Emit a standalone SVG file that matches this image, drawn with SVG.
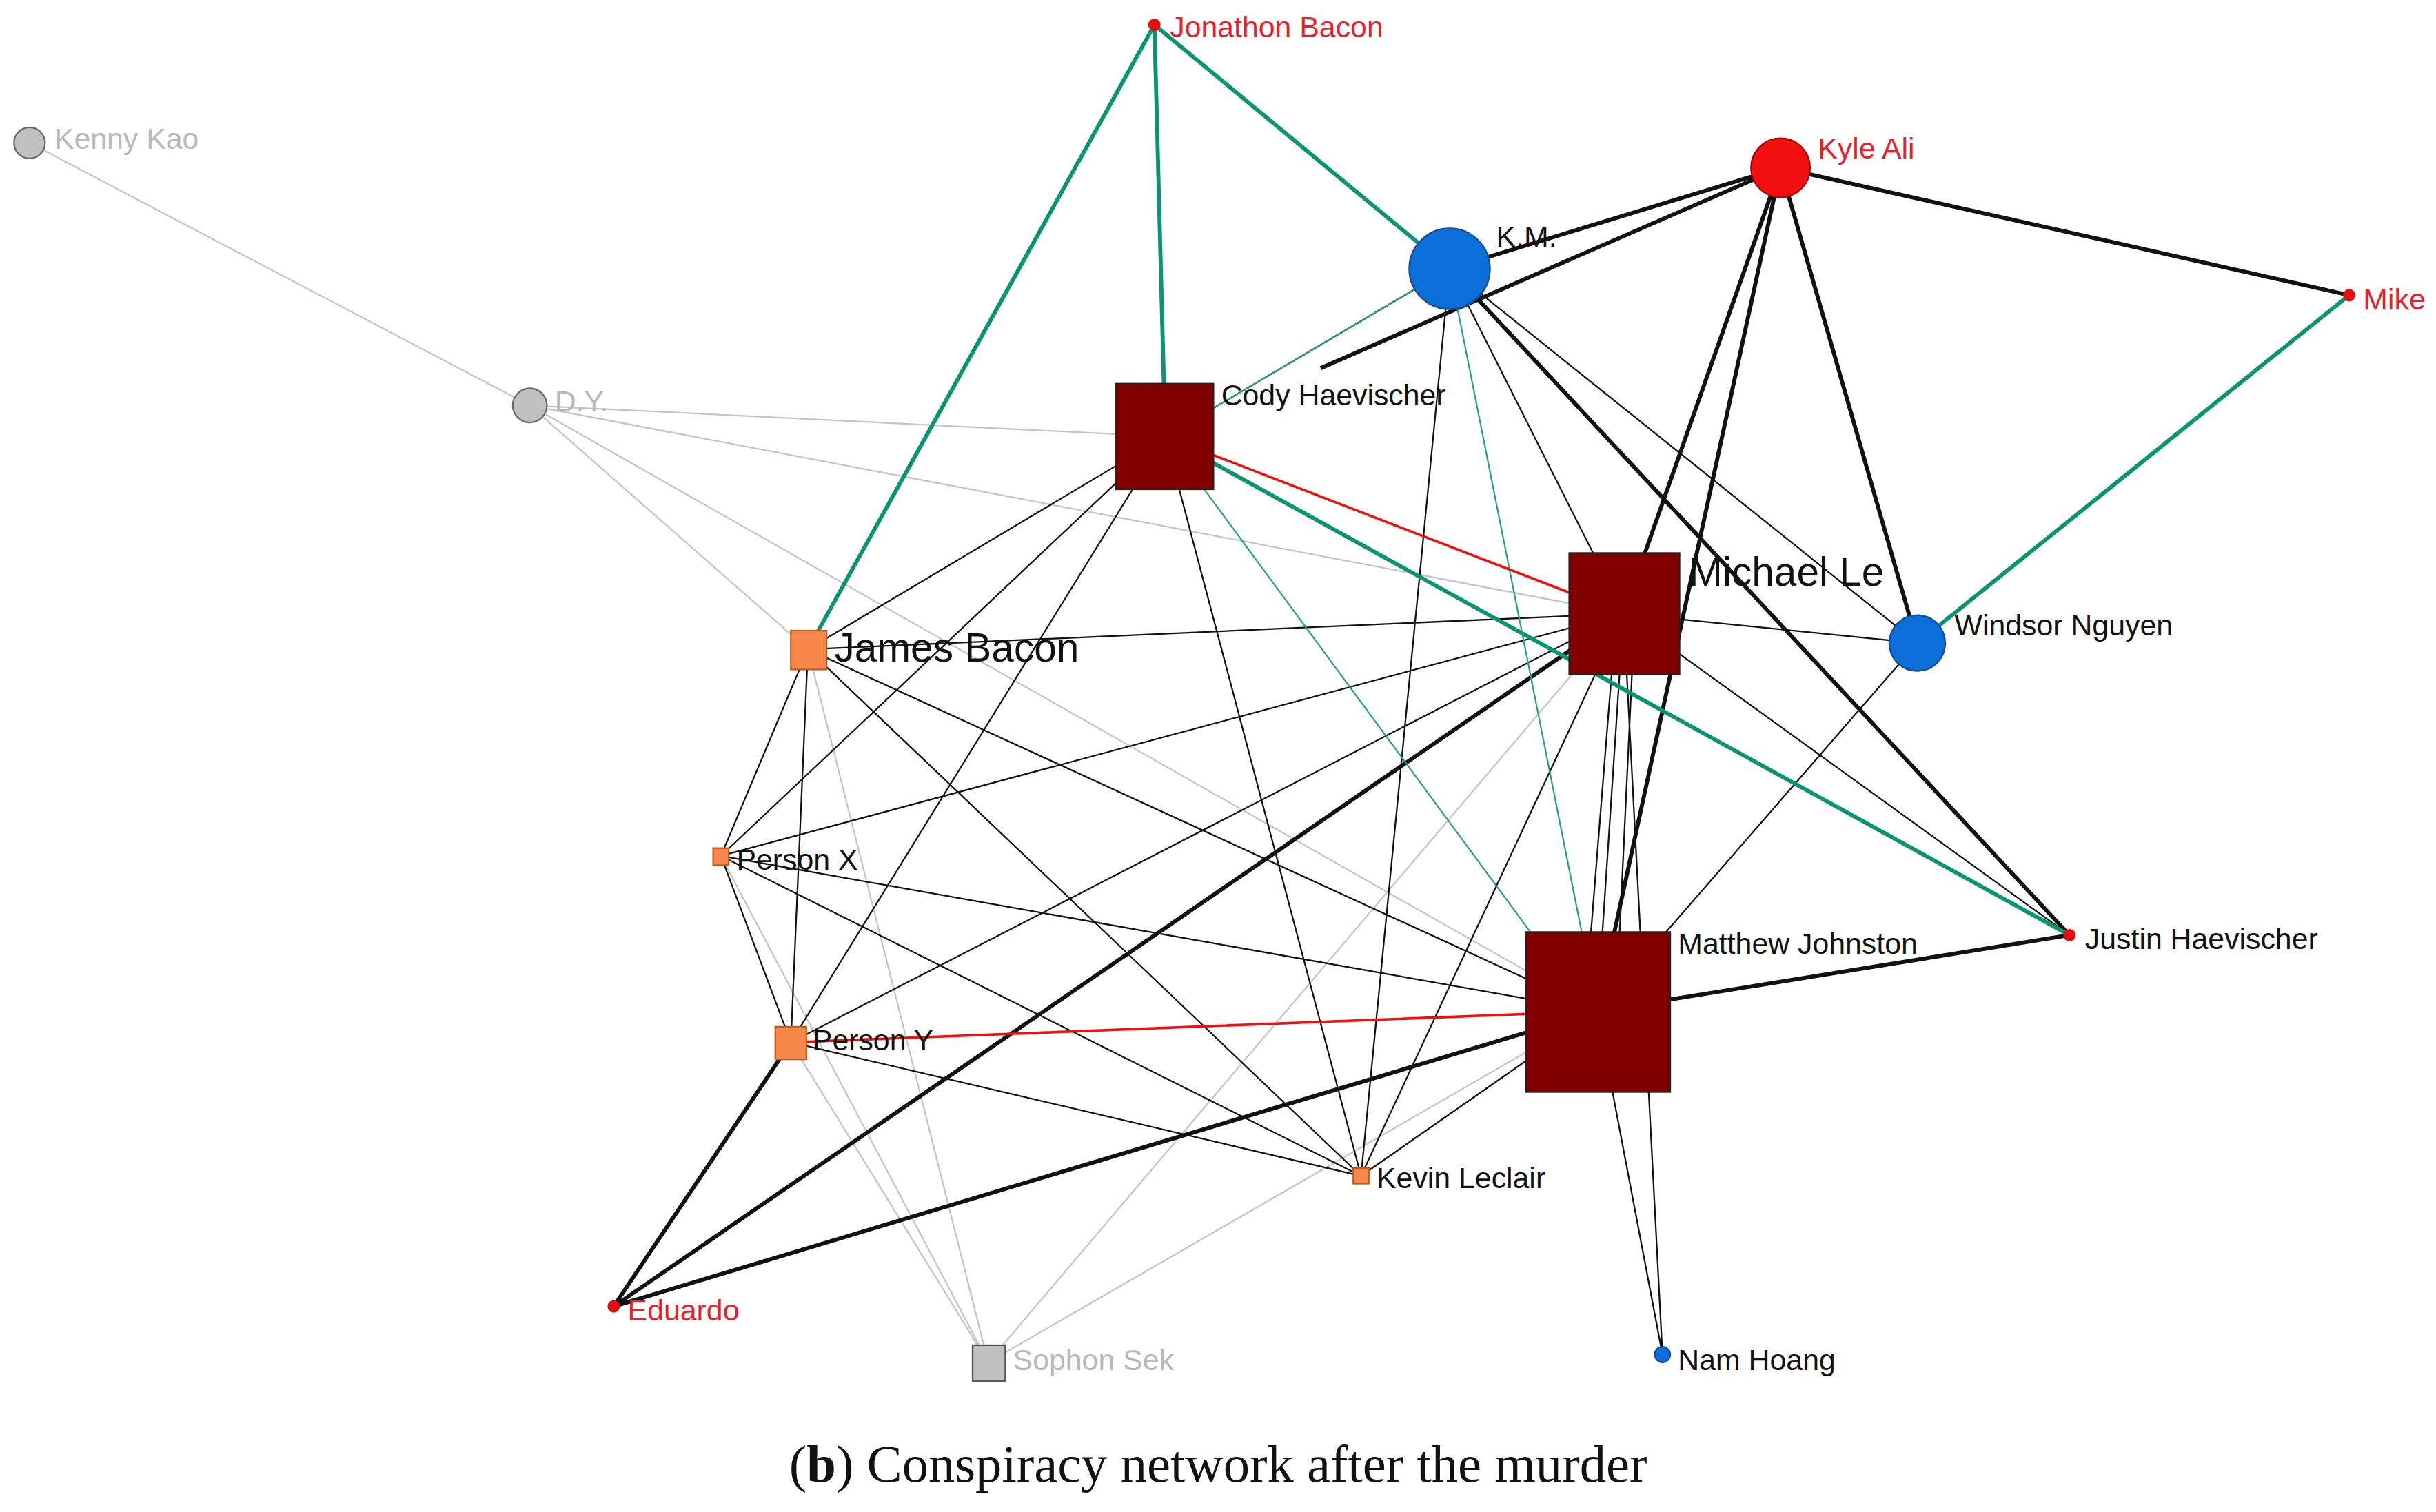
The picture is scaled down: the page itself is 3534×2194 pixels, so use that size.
<svg xmlns="http://www.w3.org/2000/svg" width="3534" height="2194" viewBox="0 0 3534 2194">
<style>
text{font-family:"Liberation Sans",Arial,sans-serif;font-size:19px;fill:#111}
.r{fill:#e8202a}.g{fill:#b8b8b8}
.e{stroke:#111;stroke-width:1;fill:none}
.t{stroke:#111;stroke-width:2.6;fill:none}
.gr{stroke:#c4c4c4;stroke-width:1;fill:none}
.gn{stroke:#0a9470;stroke-width:2.6;fill:none}
.gt{stroke:#2aa080;stroke-width:1;fill:none}
.rd{stroke:#f01010;stroke-width:1.6;fill:none}
.sq{fill:#800000;stroke:#222;stroke-width:1}
.or{fill:#f7884a;stroke:#c05a20;stroke-width:1}
.bl{fill:#0a6fd8;stroke:#1a4a90;stroke-width:1}
</style>
<rect width="3534" height="2194" fill="#fff"/>
<g transform="scale(2.254)">
<g id="connectors">
<path class="gr" d="M19,92L341,261M341,261L750,281M341,261L1045,395M341,261L520,418M341,261L1028,651M464,551L636,877M509,671L636,877M636,877L1028,651M636,877L1045,395M636,877L520,418M876,757L1028,651M520,418L1028,651M395,841L509,671"/>
<path class="e" d="M750,281L520,418M750,281L464,551M750,281L509,671M750,281L876,757M750,281L1045,395M520,418L1045,395M520,418L464,551M520,418L509,671M520,418L1028,651M520,418L876,757M464,551L509,671M464,551L1045,395M464,551L1028,651M464,551L876,757M509,671L1045,395M509,671L876,757M876,757L1045,395M876,757L1028,651M876,757L933,173M1045,395L1234,414M1045,395L1028,651M1040,400L1020,650M1052,400L1040,651M1045,395L1070,872M1028,651L1070,872M1028,651L1234,414M933,173L1234,414M933,173L1045,395M933,173L750,281M1332,602L1045,395"/>
<path class="t" d="M1146,108L933,173M1146,108L850,237M1146,108L1512,190M1146,108L1045,395M1146,108L1028,651M1146,108L1234,414M933,173L1332,602M1045,395L395,841M1028,651L395,841M509,671L395,841M1028,651L1332,602"/>
<path class="gn" d="M743,16L520,418M743,16L750,281M743,16L933,173M1512,190L1234,414M750,281L1332,602"/>
<path class="gt" d="M933,173L750,281M933,173L1018,600M750,281L985,600"/>
<path class="rd" d="M750,281L1045,395M509,671L1028,651"/>
</g>
<g id="n-jonathon"><circle cx="743" cy="16" r="4" fill="#e01010"/><text class="r" x="753" y="24">Jonathon Bacon</text></g>
<g id="n-kenny"><circle cx="19" cy="92" r="10" fill="#c0c0c0" stroke="#666"/><text class="g" x="35" y="96">Kenny Kao</text></g>
<g id="n-dy"><circle cx="341" cy="261" r="11" fill="#c0c0c0" stroke="#666"/><text class="g" x="357" y="265">D.Y.</text></g>
<g id="n-kyle"><circle cx="1146" cy="108" r="19" fill="#f01010" stroke="#a00"/><text class="r" x="1170" y="102">Kyle Ali</text></g>
<g id="n-km"><circle cx="933" cy="173" r="26" class="bl"/><text x="963" y="159">K.M.</text></g>
<g id="n-mike"><circle cx="1512" cy="190" r="4" fill="#e01010"/><text class="r" x="1521" y="199">Mike</text></g>
<g id="n-cody"><rect x="718" y="247" width="63" height="68" class="sq"/><text x="786" y="261">Cody Haevischer</text></g>
<g id="n-michael"><rect x="1010" y="356" width="71" height="78" class="sq"/><text x="1087" y="377" style="font-size:26px">Michael Le</text></g>
<g id="n-windsor"><circle cx="1234" cy="414" r="18" class="bl"/><text x="1258" y="409">Windsor Nguyen</text></g>
<g id="n-james"><rect x="509" y="406" width="23" height="25" class="or"/><text x="537" y="426" style="font-size:26px">James Bacon</text></g>
<g id="n-personx"><rect x="459" y="546" width="10" height="11" class="or"/><text x="474" y="560">Person X</text></g>
<g id="n-persony"><rect x="499" y="661" width="20" height="21" class="or"/><text x="523" y="676">Person Y</text></g>
<g id="n-matthew"><rect x="982" y="600" width="93" height="103" class="sq"/><text x="1080" y="614">Matthew Johnston</text></g>
<g id="n-justin"><circle cx="1332" cy="602" r="4" fill="#e01010"/><text x="1342" y="611">Justin Haevischer</text></g>
<g id="n-kevin"><rect x="871" y="752" width="10" height="10" class="or"/><text x="886" y="765">Kevin Leclair</text></g>
<g id="n-eduardo"><circle cx="395" cy="841" r="4" fill="#e01010"/><text class="r" x="404" y="850">Eduardo</text></g>
<g id="n-sophon"><rect x="626" y="866" width="21" height="23" fill="#c0c0c0" stroke="#555"/><text class="g" x="652" y="882">Sophon Sek</text></g>
<g id="n-nam"><circle cx="1070" cy="872" r="5" class="bl"/><text x="1080" y="882">Nam Hoang</text></g>
<text x="784" y="954" text-anchor="middle" style="font-family:'Liberation Serif',serif;font-size:34px">(<tspan font-weight="bold">b</tspan>) Conspiracy network after the murder</text>
</g>
</svg>
